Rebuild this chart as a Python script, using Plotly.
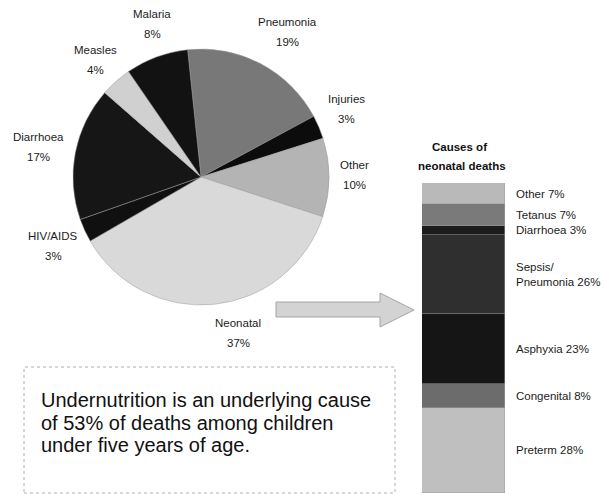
import plotly.graph_objects as go

W, H = 604, 494

# ---- Data ----
pie_labels = ["Pneumonia", "Injuries", "Other", "Neonatal", "HIV/AIDS", "Diarrhoea", "Measles", "Malaria"]
pie_values = [19, 3, 10, 37, 3, 17, 4, 8]
pie_colors = ["#787878", "#0c0c0c", "#b4b4b4", "#d9d9d9", "#101010", "#161616", "#d0d0d0", "#121212"]

# label positions in pixels (x center, y of first line)
pie_label_pos = [(287, 22), (346, 99), (355, 165), (238, 323), (53, 236), (38, 137), (95, 50), (152, 14)]

neo_labels = ["Preterm", "Congenital", "Asphyxia", "Sepsis/<br>Pneumonia", "Diarrhoea", "Tetanus", "Other"]
neo_values = [28, 8, 23, 26, 3, 7, 7]
neo_colors = ["#bfbfbf", "#6c6c6c", "#151515", "#2f2f2f", "#1c1c1c", "#7a7a7a", "#b9b9b9"]

note_lines = ["Undernutrition is an underlying cause",
              "of 53% of deaths among children",
              "under five years of age."]

FONT = "Liberation Sans, Arial, sans-serif"


def px(x):
    return x / W


def py(y):
    return 1 - y / H


fig = go.Figure()

# Pie
cx, cy, r = 201, 177, 128
fig.add_trace(go.Pie(
    labels=pie_labels, values=pie_values, sort=False, direction="clockwise",
    rotation=-6, textinfo="none", hoverinfo="label+percent",
    marker=dict(colors=pie_colors, line=dict(color="#9a9a9a", width=0.5)),
    domain=dict(x=[px(cx - r), px(cx + r)], y=[py(cy + r), py(cy - r)]),
    showlegend=False,
))

# Stacked bar for neonatal causes
for lab, val, col in zip(neo_labels, neo_values, neo_colors):
    fig.add_trace(go.Bar(
        x=["neo"], y=[val], name=lab, marker=dict(color=col, line=dict(color="#a0a0a0", width=0.5)),
        showlegend=False, xaxis="x", yaxis="y", hoverinfo="name+y",
    ))

LBL = dict(family=FONT, size=11.5, color="#1c1c1c")

annotations = []
for (lab, val, (lx, ly)) in zip(pie_labels, pie_values, pie_label_pos):
    annotations.append(dict(text=lab, x=px(lx), y=py(ly), xref="paper", yref="paper",
                            xanchor="center", yanchor="middle", showarrow=False, font=LBL))
    annotations.append(dict(text=f"{val}%", x=px(lx), y=py(ly + 20), xref="paper", yref="paper",
                            xanchor="center", yanchor="middle", showarrow=False, font=LBL))

cum = 0
for lab, val in zip(neo_labels, neo_values):
    mid = cum + val / 2
    cum += val
    annotations.append(dict(text=f"{lab} {val}%", x=px(514), y=mid, xref="paper", yref="y",
                            xanchor="left", yanchor="middle", align="left", showarrow=False, font=LBL))

annotations.append(dict(text="<b>Causes of</b>", x=px(459), y=py(147), xref="paper", yref="paper",
                        xanchor="center", yanchor="middle", showarrow=False,
                        font=dict(family=FONT, size=11.5, color="#111")))
annotations.append(dict(text="<b>neonatal deaths</b>", x=px(462), y=py(166), xref="paper", yref="paper",
                        xanchor="center", yanchor="middle", showarrow=False,
                        font=dict(family=FONT, size=11.5, color="#111")))

for i, line in enumerate(note_lines):
    annotations.append(dict(text=line, x=px(39), y=py(400 + 22.5 * i), xref="paper", yref="paper",
                            xanchor="left", yanchor="middle", showarrow=False,
                            font=dict(family=FONT, size=20, color="#111")))

shapes = [
    dict(type="rect", xref="paper", yref="paper", x0=px(24), x1=px(395), y0=py(493), y1=py(367),
         line=dict(color="#b0b0b0", width=1, dash="dot"), fillcolor="rgba(0,0,0,0)"),
    dict(type="path", xref="paper", yref="paper",
         path=(f"M {px(276)} {py(302)} L {px(380)} {py(302)} L {px(380)} {py(293)} "
               f"L {px(414)} {py(310)} L {px(380)} {py(327)} L {px(380)} {py(317)} "
               f"L {px(276)} {py(317)} Z"),
         fillcolor="#d3d3d3", line=dict(color="#a5a5a5", width=1)),
]

fig.update_layout(
    width=W, height=H, margin=dict(l=0, r=0, t=0, b=0),
    paper_bgcolor="white", plot_bgcolor="white",
    barmode="stack", bargap=0,
    xaxis=dict(domain=[px(422), px(505)], range=[-0.5, 0.5], visible=False, fixedrange=True),
    yaxis=dict(domain=[py(493), py(183)], range=[0, sum(neo_values)], visible=False, fixedrange=True),
    annotations=annotations, shapes=shapes,
)

fig.write_html("out.html")
